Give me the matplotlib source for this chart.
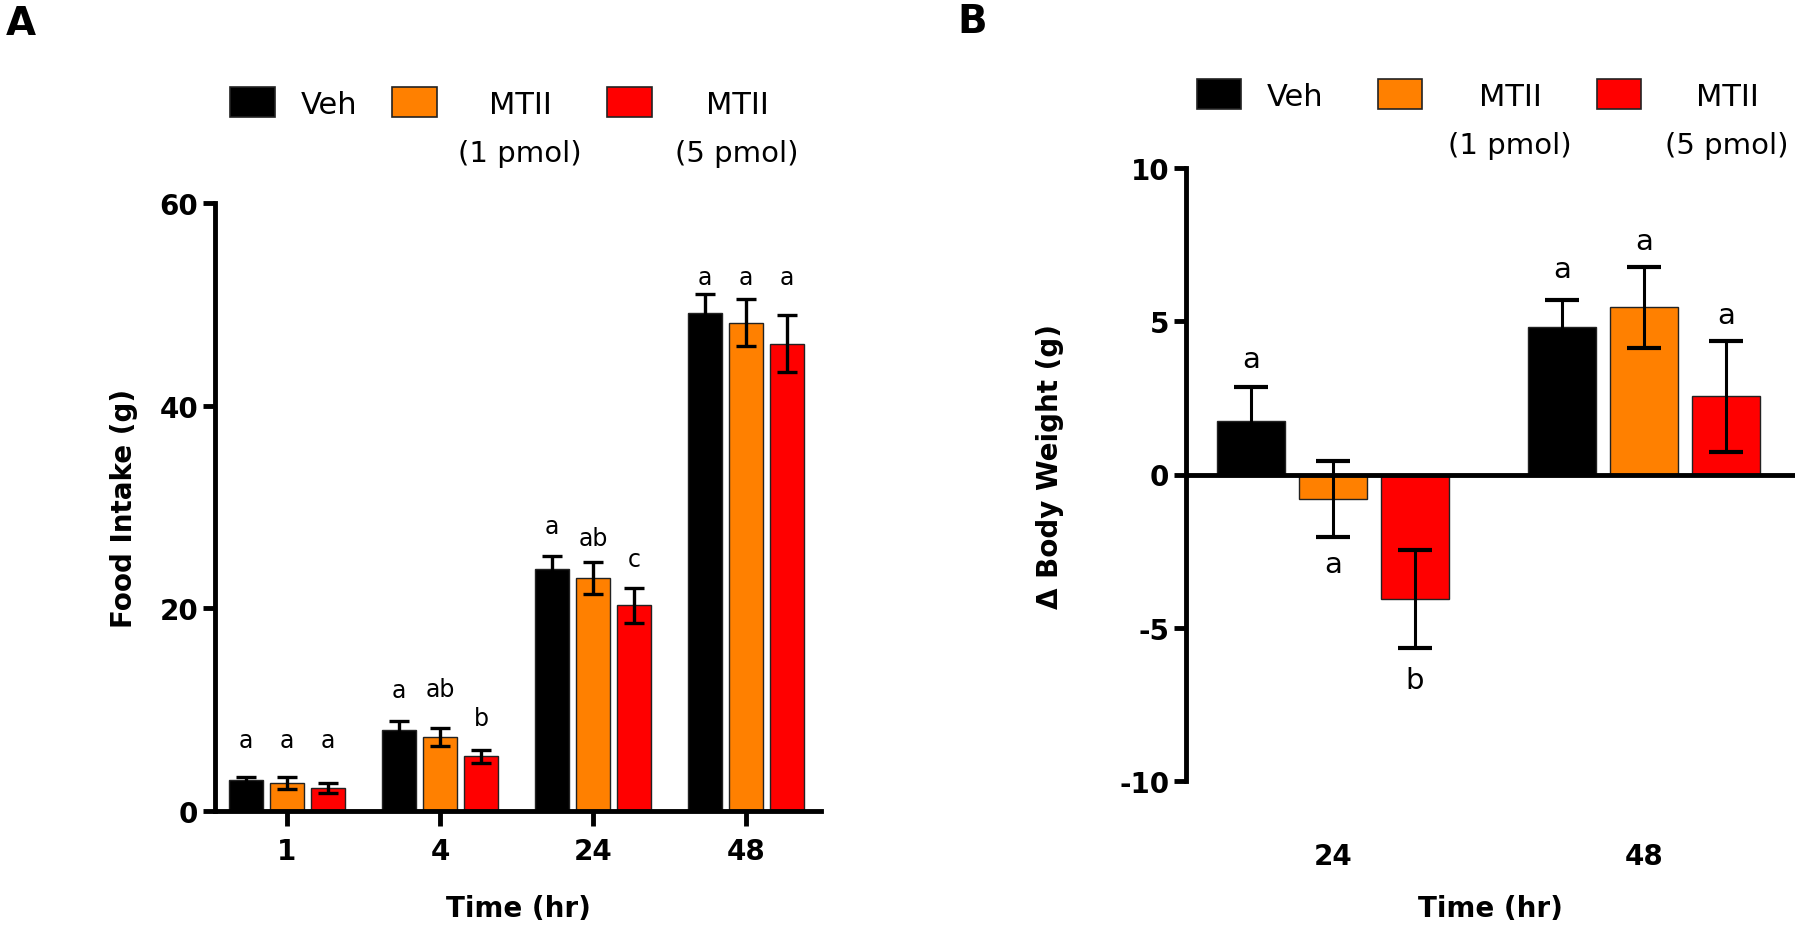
import matplotlib
matplotlib.use('Agg')
import matplotlib.pyplot as plt
from matplotlib.patches import Rectangle
import numpy as np

plt.rcParams['font.family'] = ['DejaVu Sans']
plt.rcParams['axes.unicode_minus'] = False

# 数据
groups = ['Veh', 'MTII\n(1 pmol)', 'MTII\n(5 pmol)']
colors = ['#000000', '#ff8000', '#ff0000']

# A: 摄食量
time_a = ['1', '4', '24', '48']
veh_a = [3.1, 8.0, 23.9, 49.1]
veh_a_sem = [0.3, 0.9, 1.3, 1.9]
mt1_a = [2.75, 7.3, 23.0, 48.2]
mt1_a_sem = [0.6, 0.9, 1.6, 2.3]
mt5_a = [2.3, 5.4, 20.3, 46.1]
mt5_a_sem = [0.5, 0.65, 1.7, 2.8]
letters_a = [['a', 'a', 'a'], ['a', 'ab', 'b'], ['a', 'ab', 'c'], ['a', 'a', 'a']]
letters_a_y = [[7.0, 7.0, 7.0], [11.9, 12.0, 9.2], [28.1, 26.9, 24.9], [52.7, 52.7, 52.7]]

# B: 体重变化
time_b = ['24', '48']
veh_b = [1.75, 4.8]
veh_b_sem = [1.1, 0.9]
mt1_b = [-0.8, 5.45]
mt1_b_sem = [1.25, 1.33]
mt5_b = [-4.05, 2.55]
mt5_b_sem = [1.6, 1.8]
letters_b = [['a', 'a', 'b'], ['a', 'a', 'a']]
letters_b_y = [[3.78, -2.92, -6.72], [6.71, 7.63, 5.19]]

W, H = 1800, 928
fig = plt.figure(figsize=(18, 9.28), dpi=100)


def fx(x):
    return x / W


def fy(y):
    return 1 - y / H


axA = fig.add_axes([fx(215), fy(812), fx(821 - 215), (812 - 204) / H])
axB = fig.add_axes([fx(1186), fy(782), fx(1795 - 1186), (782 - 169) / H])

# ---- A ----
xa = np.arange(len(time_a))
step = 0.268
width = 0.218
means_a = [veh_a, mt1_a, mt5_a]
sems_a = [veh_a_sem, mt1_a_sem, mt5_a_sem]
for i in range(3):
    axA.bar(xa + (i - 1) * step, means_a[i], width, color=colors[i],
            edgecolor='#222222', linewidth=1, zorder=2)
    axA.errorbar(xa + (i - 1) * step, means_a[i], yerr=sems_a[i], fmt='none',
                 ecolor='black', elinewidth=2.4, capsize=7.5, capthick=2.4, zorder=3)
for g in range(len(time_a)):
    for i in range(3):
        axA.text(xa[g] + (i - 1) * step, letters_a_y[g][i], letters_a[g][i],
                 ha='center', va='center', fontsize=17)

axA.set_xlim(-0.47, 3.49)
axA.set_ylim(0, 60)
axA.set_yticks([0, 20, 40, 60])
axA.set_xticks(xa)
axA.set_xticklabels(time_a)
axA.spines['top'].set_visible(False)
axA.spines['right'].set_visible(False)
for s in ['left', 'bottom']:
    axA.spines[s].set_linewidth(3.5)
axA.tick_params(axis='both', width=3.5, labelsize=20)
axA.tick_params(axis='y', length=9, pad=3)
axA.tick_params(axis='x', length=11, pad=8)
for lab in axA.get_xticklabels() + axA.get_yticklabels():
    lab.set_fontweight('bold')
axA.set_xlabel('Time (hr)', fontsize=20, fontweight='bold', va='center')
axA.xaxis.set_label_coords(0.5, -0.16)
axA.set_ylabel('Food Intake (g)', fontsize=20, fontweight='bold', va='center')
axA.yaxis.set_label_coords(-0.15, 0.5)

# ---- B ----
xb = np.arange(len(time_b))
step_b = 0.264
width_b = 0.219
means_b = [veh_b, mt1_b, mt5_b]
sems_b = [veh_b_sem, mt1_b_sem, mt5_b_sem]
for i in range(3):
    axB.bar(xb + (i - 1) * step_b, means_b[i], width_b, color=colors[i],
            edgecolor='#222222', linewidth=1, zorder=2)
    axB.errorbar(xb + (i - 1) * step_b, means_b[i], yerr=sems_b[i], fmt='none',
                 ecolor='black', elinewidth=2.2, capsize=12.5, capthick=3, zorder=3)
for g in range(len(time_b)):
    for i in range(3):
        axB.text(xb[g] + (i - 1) * step_b, letters_b_y[g][i], letters_b[g][i],
                 ha='center', va='center', fontsize=21)

axB.axhline(0, color='black', linewidth=3.5, zorder=4)
axB.set_xlim(-0.473, 1.486)
axB.set_ylim(-10, 10)
axB.set_yticks([-10, -5, 0, 5, 10])
axB.set_xticks(xb)
axB.set_xticklabels(time_b)
for s in ['top', 'right', 'bottom']:
    axB.spines[s].set_visible(False)
axB.spines['left'].set_linewidth(3.5)
axB.tick_params(axis='y', width=3.5, length=9, pad=3, labelsize=20)
axB.tick_params(axis='x', length=0, pad=44, labelsize=20)
for lab in axB.get_xticklabels() + axB.get_yticklabels():
    lab.set_fontweight('bold')
axB.set_xlabel('Time (hr)', fontsize=20, fontweight='bold', va='center')
axB.xaxis.set_label_coords(0.5, -0.207)
axB.set_ylabel('\u0394 Body Weight (g)', fontsize=20, fontweight='bold', va='center')
axB.yaxis.set_label_coords(-0.223, 0.515)

# ---- 图例 ----
legend_layout = [
    # 方块左边x, 方块顶y, 宽, 高, 文字中心x, 第一行y, 第二行y
    ([230, 392, 607], 88, 45, 30, [329, 520, 737], 106, 154),
    ([1197, 1378, 1597], 80, 44, 30, [1295, 1510, 1727], 97, 146),
]
for sq_x, sq_y, sw, sh, tx, ty1, ty2 in legend_layout:
    for i in range(3):
        fig.add_artist(Rectangle((fx(sq_x[i]), fy(sq_y + sh)), fx(sw), sh / H,
                                 transform=fig.transFigure, facecolor=colors[i],
                                 edgecolor='#222222', linewidth=1.2))
        lines = groups[i].split('\n')
        fig.text(fx(tx[i]), fy(ty1), lines[0], ha='center', va='center', fontsize=22)
        if len(lines) > 1:
            fig.text(fx(tx[i]), fy(ty2), lines[1], ha='center', va='center', fontsize=21)

fig.text(fx(6), fy(24), 'A', fontsize=28, fontweight='bold', ha='left', va='center')
fig.text(fx(957), fy(22), 'B', fontsize=28, fontweight='bold', ha='left', va='center')

plt.savefig('out.png', dpi=100)
